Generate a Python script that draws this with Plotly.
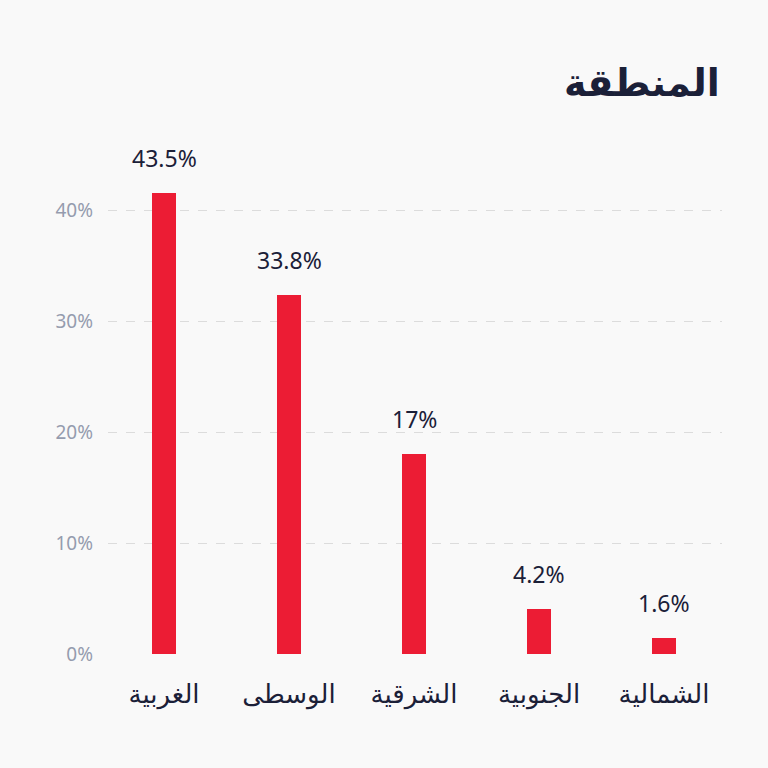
import plotly.graph_objects as go

categories = ["الغربية", "الوسطى", "الشرقية", "الجنوبية", "الشمالية"]
values = [41.6, 32.4, 18.0, 4.1, 1.45]
value_labels = ["43.5%", "33.8%", "17%", "4.2%", "1.6%"]
y_ticks = [0, 10, 20, 30, 40]
y_tick_text = ["0%", "10%", "20%", "30%", "40%"]
title_text = "المنطقة"

FONT = "Noto Sans, DejaVu Sans, sans-serif"
DARK = "#1b2038"
GREY = "#959cae"
RED = "#ec1c34"
BG = "#f9f9f9"

fig = go.Figure()
fig.add_trace(go.Bar(
    x=list(range(len(categories))),
    y=values,
    width=0.192,
    marker=dict(color=RED, line=dict(width=0)),
    hoverinfo="skip",
))

for i, (v, t) in enumerate(zip(values, value_labels)):
    fig.add_annotation(
        x=i, y=v, text=t, showarrow=False, xref="x", yref="y",
        yshift=35, font=dict(family=FONT, size=23, color=DARK),
    )

ymax = 44.0
plot_top = 654 - ymax * 11.1
plot_h = 654 - plot_top

fig.add_annotation(
    x=1.0, y=(654 - 81) / plot_h, xref="paper", yref="paper",
    text="<b>" + title_text + "</b>",
    showarrow=False, xanchor="right", yanchor="middle",
    font=dict(family=FONT, size=38, color=DARK),
)

fig.update_layout(
    width=768, height=768,
    paper_bgcolor=BG, plot_bgcolor=BG,
    margin=dict(l=108, r=46, t=int(round(plot_top)), b=114),
    showlegend=False,
    bargap=0,
    xaxis=dict(
        range=[-0.448, 4.464],
        tickmode="array",
        tickvals=list(range(len(categories))),
        ticktext=categories,
        showgrid=False, zeroline=False, showline=False,
        ticks="", ticklabelstandoff=22,
        tickfont=dict(family=FONT, size=26, color=DARK),
        fixedrange=True,
    ),
    yaxis=dict(
        range=[0, ymax],
        tickmode="array",
        tickvals=y_ticks,
        ticktext=y_tick_text,
        showgrid=True, gridcolor="#dcdcdc", griddash="dash", gridwidth=1,
        zeroline=False, showline=False, ticks="",
        ticklabelstandoff=14,
        tickfont=dict(family=FONT, size=19, color=GREY),
        fixedrange=True,
    ),
)

fig.write_html("out.html")
